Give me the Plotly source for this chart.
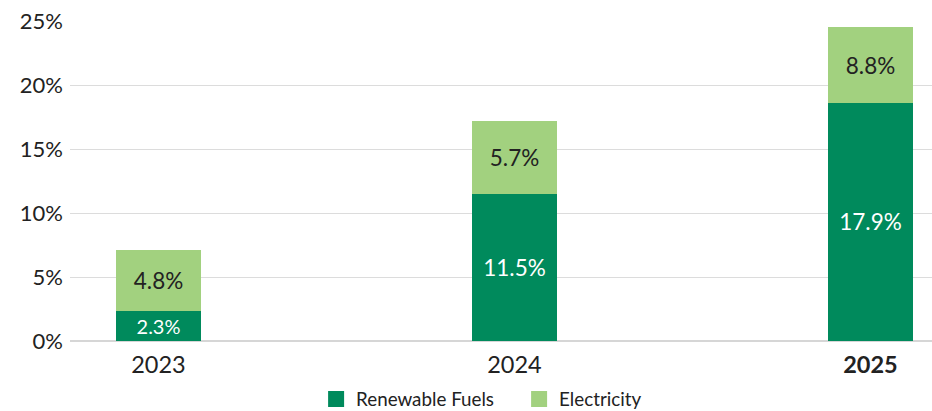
import plotly.graph_objects as go

years = ["2023", "2024", "2025"]
tick_labels = ["2023", "2024", "<b>2025</b>"]
renewable_fuels = [2.34, 11.5, 18.6]
electricity = [4.77, 5.7, 5.9]
renewable_labels = ["2.3%", "11.5%", "17.9%"]
electricity_labels = ["4.8%", "5.7%", "8.8%"]
y_ticks = [0, 5, 10, 15, 20, 25]
y_tick_labels = ["0%", "5%", "10%", "15%", "20%", "25%"]

DARK = "#008a5c"
LIGHT = "#a2d17f"
TEXT = "#222222"
FONT = "Lato"

xpos = list(range(len(years)))

fig = go.Figure()
fig.add_trace(go.Bar(
    x=xpos, y=renewable_fuels, name="Renewable Fuels",
    marker=dict(color=DARK, line=dict(width=0)),
    text=renewable_labels, textposition="inside", insidetextanchor="middle",
    textfont=dict(color="white", size=22.5, family=FONT),
    width=0.24, showlegend=False, hoverinfo="skip",
))
fig.add_trace(go.Bar(
    x=xpos, y=electricity, name="Electricity",
    marker=dict(color=LIGHT, line=dict(width=0)),
    text=electricity_labels, textposition="inside", insidetextanchor="middle",
    textfont=dict(color=TEXT, size=22.5, family=FONT),
    width=0.24, showlegend=False, hoverinfo="skip",
))
# legend entries
for name, col in [("Renewable Fuels", DARK), ("Electricity", LIGHT)]:
    fig.add_trace(go.Scatter(
        x=[None], y=[None], mode="markers", name=name,
        marker=dict(symbol="square", size=16, color=col),
    ))

fig.update_layout(
    width=932, height=411,
    barmode="stack",
    margin=dict(l=70, r=0, t=21, b=70, autoexpand=False),
    paper_bgcolor="white", plot_bgcolor="white",
    font=dict(family=FONT, color=TEXT, size=21),
    legend=dict(
        orientation="h", x=0.521, xanchor="center", y=-0.1226, yanchor="top",
        traceorder="normal", entrywidth=158, entrywidthmode="pixels",
        font=dict(size=18.8, color=TEXT, family=FONT),
        itemclick=False, itemdoubleclick=False,
    ),
    xaxis=dict(
        range=[-0.2486, 2.1728], tickvals=xpos, ticktext=tick_labels,
        showgrid=False, zeroline=False, showline=False,
        ticks="", ticklabelstandoff=7,
        tickfont=dict(size=23.5, color=TEXT, family=FONT),
    ),
    yaxis=dict(
        range=[0, 25], tickvals=y_ticks, ticktext=y_tick_labels,
        showgrid=True, gridcolor="#dcdcdc", gridwidth=1,
        zeroline=True, zerolinecolor="#d6d6d6", zerolinewidth=1.5,
        showline=False, ticks="", ticklabelstandoff=6,
        tickfont=dict(size=22, color=TEXT, family=FONT),
    ),
)

fig.write_html("out.html")
